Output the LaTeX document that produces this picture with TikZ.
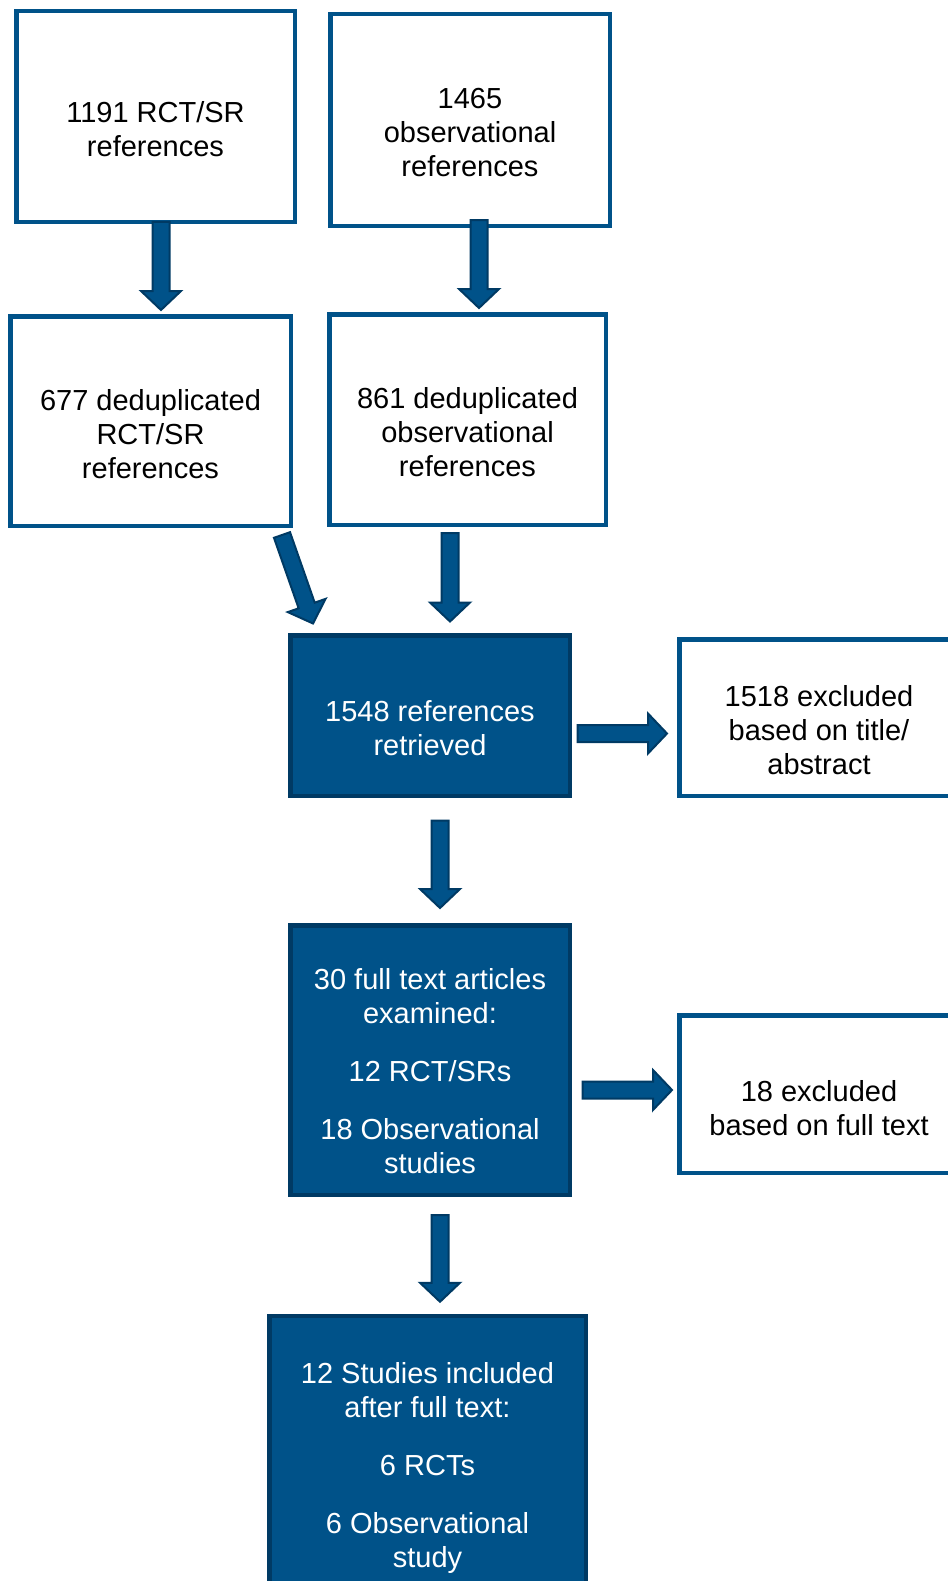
\documentclass[tikz,border=0pt]{standalone}
\usepackage{fontspec}
\setmainfont{Liberation Sans}
\usetikzlibrary{calc}
\definecolor{boxblue}{RGB}{0,82,137}
\definecolor{edgeblue}{RGB}{0,58,100}
\def\blockarrow(#1)(#2){\draw[flowarrow] let \p1=($(#2)-(#1)$), \n1={atan2(\y1,\x1)}, \n2={veclen(\x1,\y1)-19} in
	($(#1)+(\n1+90:8.5)$) -- ($(#1)+(\n1:\n2)+(\n1+90:8.5)$) -- ($(#1)+(\n1:\n2)+(\n1+90:20)$) -- (#2)
	-- ($(#1)+(\n1:\n2)+(\n1-90:20)$) -- ($(#1)+(\n1:\n2)+(\n1-90:8.5)$) -- ($(#1)+(\n1-90:8.5)$) -- cycle;}

\begin{document}
\begin{tikzpicture}[x=1pt,y=1pt,
	whitebox/.style={draw=boxblue, fill=white, line width=4.5pt, outer sep=0pt, inner sep=0pt},
	bluebox/.style={draw=edgeblue, fill=boxblue, line width=4.5pt, outer sep=0pt, inner sep=0pt},
	flowarrow/.style={draw=edgeblue, fill=boxblue, line width=2pt, line join=miter},
	txt/.style={align=center, inner sep=0pt, font=\fontsize{29}{34}\selectfont}]
		%%%%% START %%%%%
		\useasboundingbox (0,0) rectangle (947,-1581);
		
		% sources
		\node[whitebox, minimum width=278.5pt, minimum height=210.5pt] (b1) at (155.5,-116.5) {};
		\node[whitebox, minimum width=279.5pt, minimum height=211.5pt] (b2) at (470,-120) {};
		\node[txt] (t1) at ([yshift=-13pt]b1.center) {1191 RCT/SR\\references};
		\node[txt] (t2) at ([yshift=-13pt]b2.center) {1465\\observational\\references};
		
		% deduplicated
		\node[whitebox, minimum width=280.5pt, minimum height=209.5pt] (b3) at (150.5,-421) {};
		\node[whitebox, minimum width=276.5pt, minimum height=210.5pt] (b4) at (467.5,-419.5) {};
		\node[txt] (t3) at ([yshift=-13pt]b3.center) {677 deduplicated\\RCT/SR\\references};
		\node[txt] (t4) at ([yshift=-13pt]b4.center) {861 deduplicated\\observational\\references};
		
		% screening
		\node[bluebox, minimum width=279.5pt, minimum height=160.5pt] (b5) at (430,-715.5) {};
		\node[whitebox, minimum width=279.5pt, minimum height=156.5pt] (b6) at (819,-717.5) {};
		\node[txt, text=white] (t5) at ([yshift=-13pt]b5.center) {1548 references\\retrieved};
		\node[txt] (t6) at ([yshift=-13pt]b6.center) {1518 excluded\\based on title/\\abstract};
		
		% full text
		\node[bluebox, minimum width=279.5pt, minimum height=269.5pt] (b7) at (430,-1060) {};
		\node[whitebox, minimum width=279.5pt, minimum height=157.5pt] (b8) at (819,-1094) {};
		\node[txt, text=white] (t7) at ([yshift=-11.5pt]b7.center) {30 full text articles\\examined:\\[24pt]12 RCT/SRs\\[24pt]18 Observational\\studies};
		\node[txt] (t8) at ([yshift=-14pt]b8.center) {18 excluded\\based on full text};
		
		% included
		\node[bluebox, minimum width=316.5pt, minimum height=270pt] (b9) at (427.5,-1451) {};
		\node[txt, text=white] (t9) at ([yshift=-17pt]b9.center) {12 Studies included\\after full text:\\[24pt]6 RCTs\\[24pt]6 Observational\\study};
		
		% arrows
		\blockarrow([xshift=5.5pt]b1.south)([xshift=10.5pt,yshift=6.25pt]b3.north)
		\blockarrow([xshift=9pt,yshift=5.75pt]b2.south)([xshift=11.5pt,yshift=6.25pt]b4.north)
		\blockarrow([xshift=-8.75pt,yshift=-9.25pt]b3.south east)([xshift=22.75pt,yshift=11.75pt]b5.north west)
		\blockarrow([xshift=-17.5pt,yshift=-8.25pt]b4.south)([xshift=20pt,yshift=13.75pt]b5.north)
		\blockarrow([xshift=7.75pt,yshift=-18pt]b5.east)([xshift=-12.25pt,yshift=-16pt]b6.west)
		\blockarrow([xshift=10pt,yshift=-24.75pt]b5.south)([xshift=10pt,yshift=17.25pt]b7.north)
		\blockarrow([xshift=12.75pt,yshift=-30pt]b7.east)([xshift=-7.25pt,yshift=4pt]b8.west)
		\blockarrow([xshift=10pt,yshift=-20.25pt]b7.south)([xshift=12.5pt,yshift=14.25pt]b9.north)
		
		%%%%% END %%%%%
\end{tikzpicture}
\end{document}
